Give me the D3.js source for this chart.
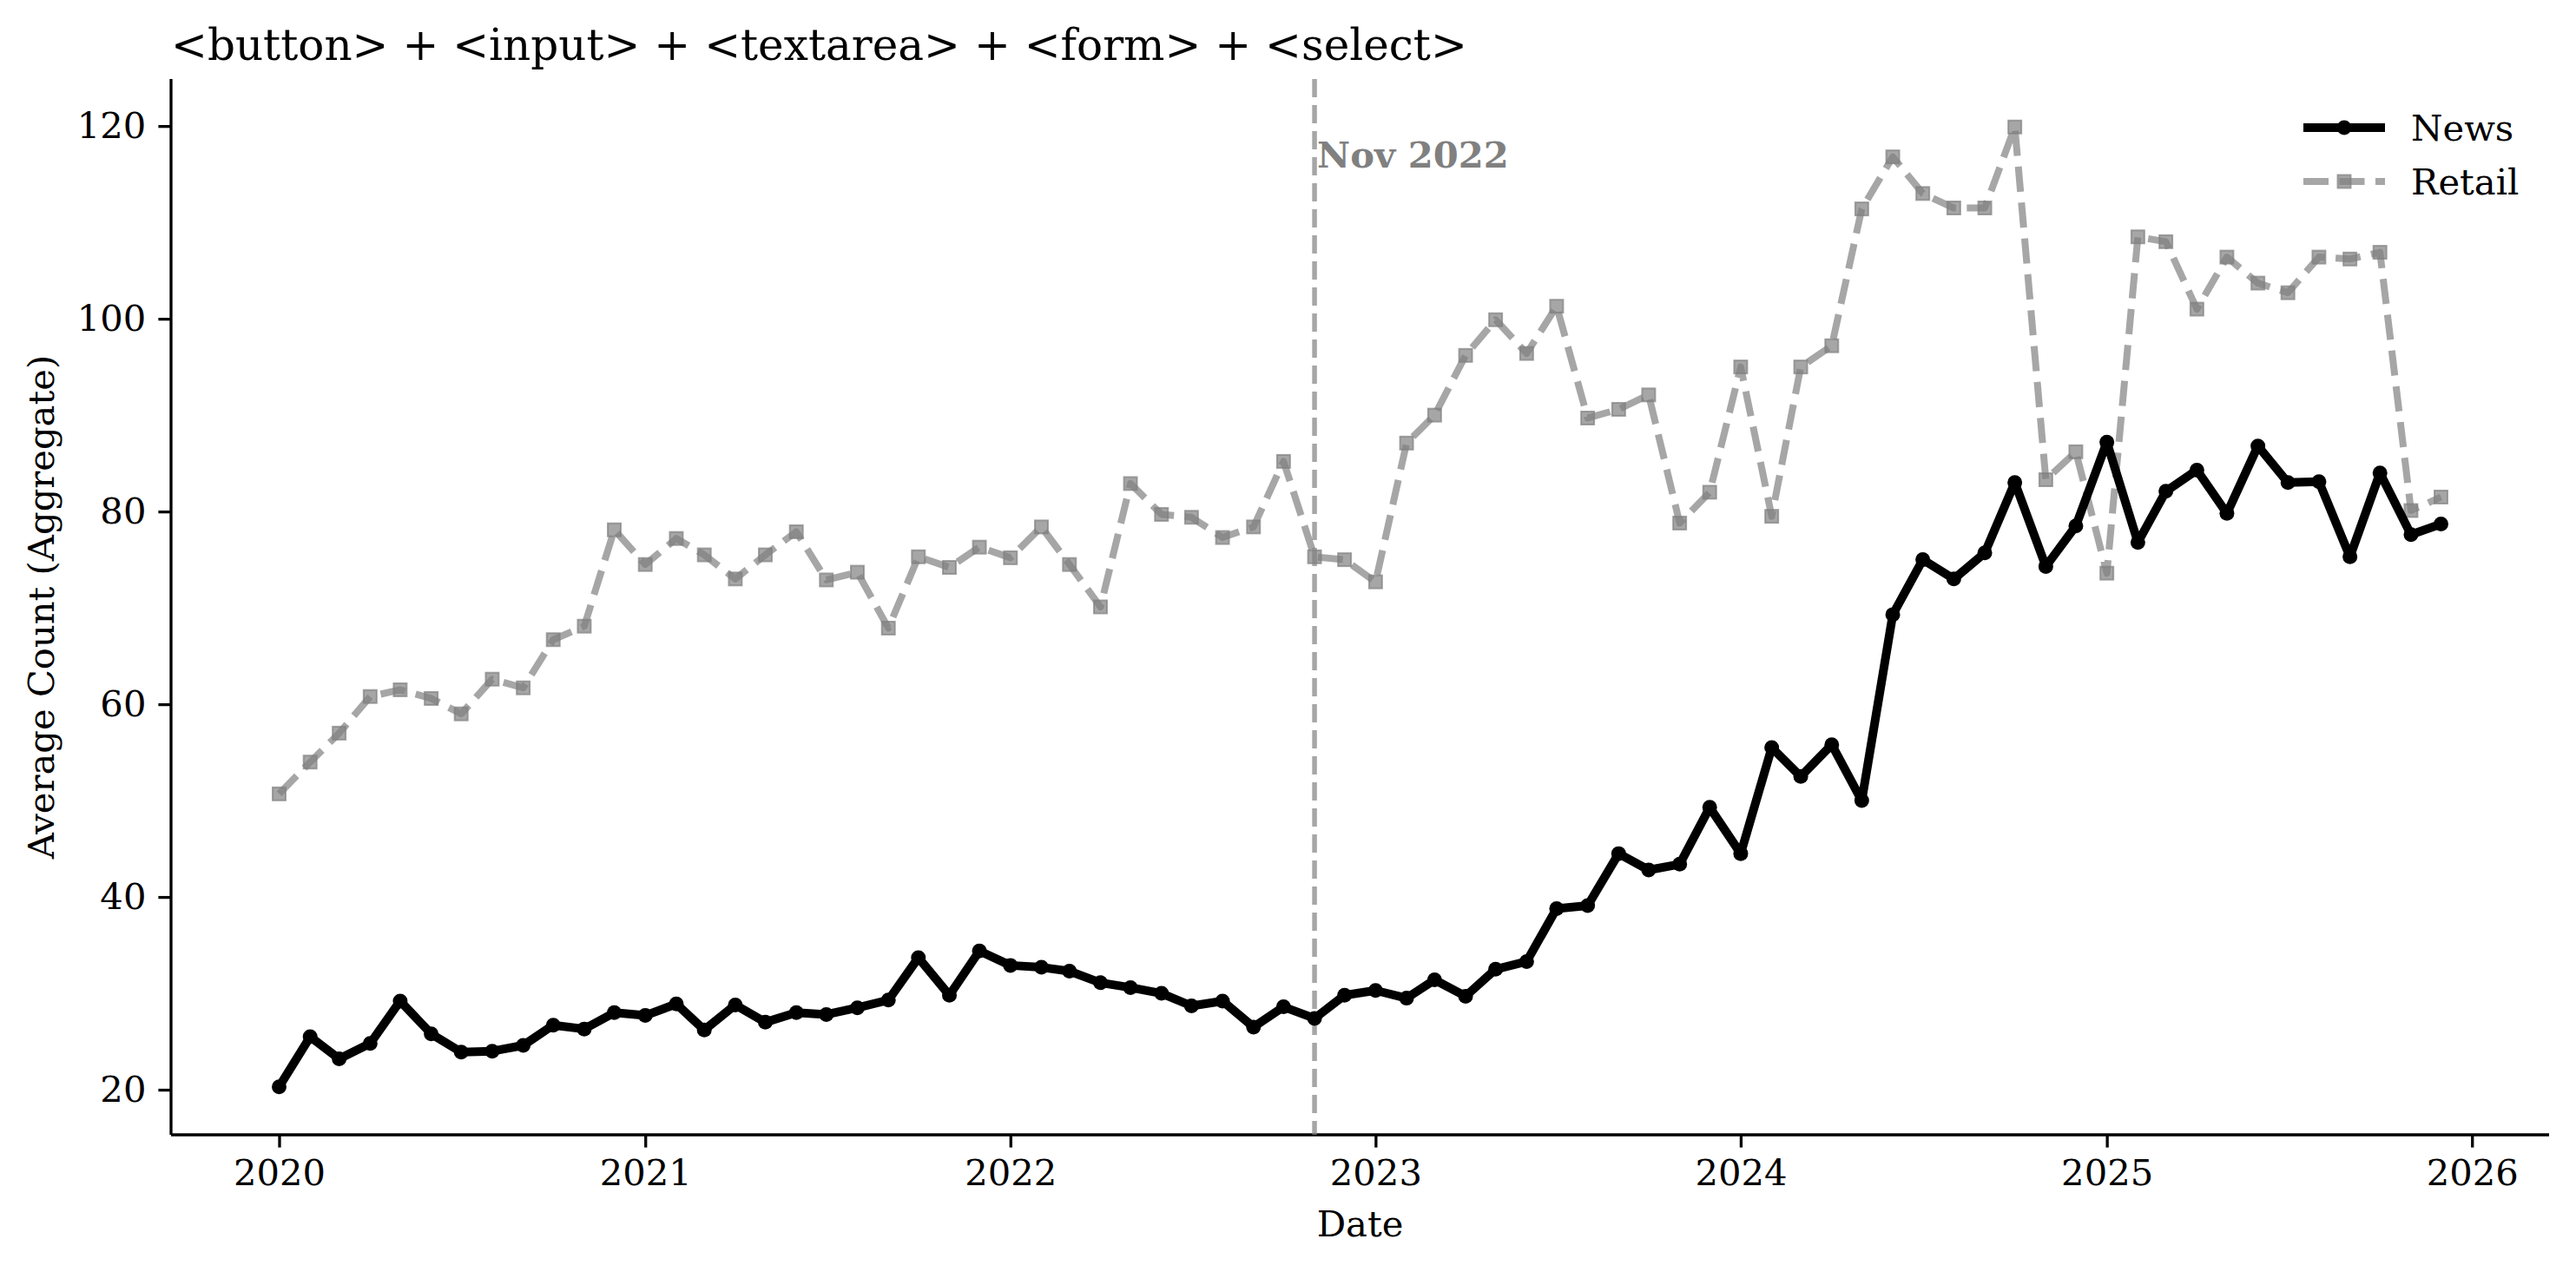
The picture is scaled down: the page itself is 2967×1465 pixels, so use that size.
<!DOCTYPE html>
<html>
<head>
<meta charset="utf-8">
<script src="https://cdn.jsdelivr.net/npm/d3@7"></script>
<style>
  html, body { margin: 0; padding: 0; background: #ffffff; }
  svg { display: block; font-family: "DejaVu Serif", serif; }
</style>
</head>
<body>
<svg id="chart" width="2967" height="1465"></svg>
<script>
// ---- data ----
const startYear = 2020, startMonth = 0, monthCount = 72;
const news = [
  20.3, 25.5, 23.2, 24.8, 29.2, 25.8, 23.9, 24.0, 24.6, 26.7, 26.3, 28.0,
  27.7, 28.9, 26.2, 28.8, 27.0, 28.0, 27.8, 28.5, 29.3, 33.7, 29.8, 34.4,
  32.9, 32.7, 32.3, 31.1, 30.6, 30.0, 28.7, 29.2, 26.5, 28.6, 27.4, 29.8,
  30.3, 29.5, 31.4, 29.7, 32.5, 33.3, 38.8, 39.1, 44.5, 42.8, 43.4, 49.3,
  44.5, 55.5, 52.5, 55.8, 50.0, 69.3, 75.0, 73.0, 75.7, 83.0, 74.3, 78.5,
  87.2, 76.8, 82.1, 84.3, 79.8, 86.8, 83.0, 83.1, 75.3, 84.0, 77.6, 78.7
];
const retail = [
  50.7, 54.0, 57.0, 60.8, 61.5, 60.6, 59.0, 62.6, 61.7, 66.7, 68.1, 78.1,
  74.5, 77.2, 75.5, 73.0, 75.5, 77.9, 72.9, 73.7, 67.9, 75.3, 74.2, 76.3,
  75.2, 78.4, 74.5, 70.1, 82.9, 79.7, 79.4, 77.3, 78.4, 85.2, 75.3, 75.0,
  72.7, 87.1, 90.0, 96.2, 99.9, 96.4, 101.3, 89.7, 90.6, 92.1, 78.8, 82.0,
  95.0, 79.5, 95.0, 97.2, 111.4, 116.8, 113.0, 111.5, 111.5, 119.9, 83.3, 86.2,
  73.6, 108.5, 108.0, 101.0, 106.4, 103.7, 102.7, 106.4, 106.2, 106.9, 80.1, 81.5
];
const seriesNames = ["News", "Retail"];
const yTicks = [20, 40, 60, 80, 100, 120];
const xTickYears = [2020, 2021, 2022, 2023, 2024, 2025, 2026];
const markerDate = new Date(2022, 10, 1);
const markerLabel = "Nov 2022";
const titleText = "<button> + <input> + <textarea> + <form> + <select>";
const xLabel = "Date";
const yLabel = "Average Count (Aggregate)";

// ---- layout ----
const W = 2967, H = 1465;
const plot = { left: 197, right: 2936, top: 91, bottom: 1307 };
const svg = d3.select("#chart");
svg.append("rect").attr("width", W).attr("height", H).attr("fill", "#fff");

const dates = d3.range(monthCount).map(i => new Date(startYear, startMonth + i, 1));

// matplotlib-like 5% margins
const t0 = +dates[0], t1 = +dates[dates.length - 1];
const tpad = (t1 - t0) * 0.05;
const x = d3.scaleTime().domain([new Date(t0 - tpad), new Date(t1 + tpad)]).range([plot.left, plot.right]);
const allVals = news.concat(retail);
const vmin = d3.min(allVals), vmax = d3.max(allVals);
const vpad = (vmax - vmin) * 0.05;
const y = d3.scaleLinear().domain([vmin - vpad, vmax + vpad]).range([plot.bottom, plot.top]);

const tickFont = 41.7;
const spineW = 3.3, tickLen = 14.6, tickPad = 14;

// axes
const xAxis = d3.axisBottom(x)
  .tickValues(xTickYears.map(yr => new Date(yr, 0, 1)))
  .tickFormat(d3.timeFormat("%Y"))
  .tickSize(tickLen).tickPadding(tickPad);
const gx = svg.append("g").attr("transform", `translate(0,${plot.bottom})`).call(xAxis);
gx.select(".domain").attr("stroke", "#000").attr("stroke-width", spineW)
  .attr("d", `M${plot.left},0H${plot.right}`);
gx.selectAll(".tick line").attr("stroke", "#000").attr("stroke-width", spineW);
gx.selectAll(".tick text").attr("font-family", "DejaVu Serif").attr("font-size", tickFont).attr("fill", "#000");

const yAxis = d3.axisLeft(y).tickValues(yTicks).tickFormat(d3.format("d")).tickSize(tickLen).tickPadding(tickPad);
const gy = svg.append("g").attr("transform", `translate(${plot.left},0)`).call(yAxis);
gy.select(".domain").attr("stroke", "#000").attr("stroke-width", spineW)
  .attr("d", `M0,${plot.top}V${plot.bottom}`);
gy.selectAll(".tick line").attr("stroke", "#000").attr("stroke-width", spineW);
gy.selectAll(".tick text").attr("font-family", "DejaVu Serif").attr("font-size", tickFont).attr("fill", "#000");

// vertical marker line
svg.append("line")
  .attr("x1", x(markerDate)).attr("x2", x(markerDate))
  .attr("y1", plot.top).attr("y2", plot.bottom)
  .attr("stroke", "#808080").attr("stroke-opacity", 0.7)
  .attr("stroke-width", 5.5).attr("stroke-dasharray", "21,9");
svg.append("text")
  .attr("x", x(markerDate) + 3).attr("y", 193)
  .attr("font-size", tickFont).attr("font-weight", "bold").attr("fill", "#808080")
  .text(markerLabel);

// series
const line = d3.line().x((d, i) => x(dates[i])).y(d => y(d));

// Retail
const retailG = svg.append("g");
retailG.append("path").datum(retail).attr("d", line)
  .attr("fill", "none").attr("stroke", "#808080").attr("stroke-opacity", 0.7)
  .attr("stroke-width", 8).attr("stroke-dasharray", "29,12.5").attr("stroke-linejoin", "round");
retailG.selectAll("rect").data(retail).enter().append("rect")
  .attr("x", (d, i) => x(dates[i]) - 7.5).attr("y", d => y(d) - 7.5)
  .attr("width", 15).attr("height", 15)
  .attr("fill", "#808080").attr("fill-opacity", 0.7)
  .attr("stroke", "#808080").attr("stroke-opacity", 0.7).attr("stroke-width", 2);

// News
const newsG = svg.append("g");
newsG.append("path").datum(news).attr("d", line)
  .attr("fill", "none").attr("stroke", "#000").attr("stroke-width", 10).attr("stroke-linejoin", "round");
newsG.selectAll("circle").data(news).enter().append("circle")
  .attr("cx", (d, i) => x(dates[i])).attr("cy", d => y(d)).attr("r", 8.5)
  .attr("fill", "#000");

// legend
const lg = svg.append("g");
const legX0 = 2653, legX1 = 2747, legTx = 2777;
const legY = [147, 209];
lg.append("line").attr("x1", legX0).attr("x2", legX1).attr("y1", legY[0]).attr("y2", legY[0])
  .attr("stroke", "#000").attr("stroke-width", 10);
lg.append("circle").attr("cx", (legX0 + legX1) / 2).attr("cy", legY[0]).attr("r", 8.5).attr("fill", "#000");
lg.append("line").attr("x1", legX0).attr("x2", legX1).attr("y1", legY[1]).attr("y2", legY[1])
  .attr("stroke", "#808080").attr("stroke-opacity", 0.7).attr("stroke-width", 8).attr("stroke-dasharray", "29,12.5");
lg.append("rect").attr("x", (legX0 + legX1) / 2 - 7.5).attr("y", legY[1] - 7.5).attr("width", 15).attr("height", 15)
  .attr("fill", "#808080").attr("fill-opacity", 0.7).attr("stroke", "#808080").attr("stroke-opacity", 0.7).attr("stroke-width", 2);
seriesNames.forEach((n, i) => {
  lg.append("text").attr("x", legTx).attr("y", legY[i]).attr("dy", "0.35em")
    .attr("font-size", tickFont).attr("fill", "#000").text(n);
});

// title and labels
svg.append("text").attr("x", plot.left).attr("y", 69)
  .attr("font-size", 50).attr("fill", "#000").text(titleText);
svg.append("text").attr("x", (plot.left + plot.right) / 2).attr("y", 1424)
  .attr("text-anchor", "middle").attr("font-size", tickFont).attr("fill", "#000").text(xLabel);
svg.append("text").attr("transform", `translate(62,${(plot.top + plot.bottom) / 2}) rotate(-90)`)
  .attr("text-anchor", "middle").attr("font-size", tickFont).attr("fill", "#000").text(yLabel);
</script>
</body>
</html>
